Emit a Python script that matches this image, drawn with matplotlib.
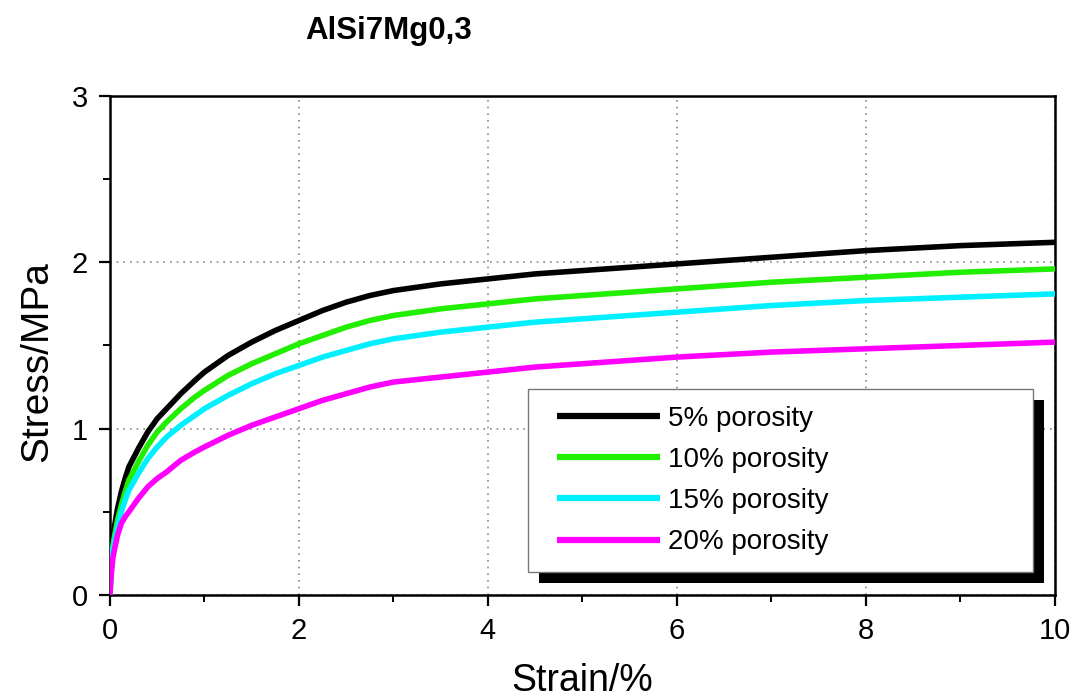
import matplotlib
matplotlib.use("Agg")
import numpy as np
import matplotlib.pyplot as plt
from matplotlib.patches import Rectangle
from matplotlib.ticker import MultipleLocator

plt.rcParams['font.family'] = ['Liberation Sans', 'DejaVu Sans']

# Strain (%) sample points
strain = [0, 0.01, 0.03, 0.05, 0.08, 0.12, 0.16, 0.2, 0.3, 0.4, 0.5, 0.6, 0.75, 0.9, 1.0,
          1.25, 1.5, 1.75, 2.0, 2.25, 2.5, 2.75, 3.0, 3.5, 4, 4.5, 5, 6, 7, 8, 9, 10]

# Stress (MPa) for each porosity level
stress_5 = [0, 0.18, 0.34, 0.42, 0.52, 0.62, 0.70, 0.77, 0.88, 0.98, 1.06, 1.12, 1.21, 1.29, 1.34,
            1.44, 1.52, 1.59, 1.65, 1.71, 1.76, 1.80, 1.83, 1.87, 1.90, 1.93, 1.95, 1.99, 2.03, 2.07, 2.10, 2.12]
stress_10 = [0, 0.15, 0.29, 0.36, 0.45, 0.54, 0.62, 0.69, 0.80, 0.90, 0.98, 1.04, 1.12, 1.19, 1.23,
             1.32, 1.39, 1.45, 1.51, 1.56, 1.61, 1.65, 1.68, 1.72, 1.75, 1.78, 1.80, 1.84, 1.88, 1.91, 1.94, 1.96]
stress_15 = [0, 0.13, 0.27, 0.33, 0.41, 0.50, 0.57, 0.63, 0.73, 0.82, 0.89, 0.95, 1.02, 1.08, 1.12,
             1.20, 1.27, 1.33, 1.38, 1.43, 1.47, 1.51, 1.54, 1.58, 1.61, 1.64, 1.66, 1.70, 1.74, 1.77, 1.79, 1.81]
stress_20 = [0, 0.10, 0.22, 0.28, 0.36, 0.43, 0.47, 0.50, 0.58, 0.65, 0.70, 0.74, 0.81, 0.86, 0.89,
             0.96, 1.02, 1.07, 1.12, 1.17, 1.21, 1.25, 1.28, 1.31, 1.34, 1.37, 1.39, 1.43, 1.46, 1.48, 1.50, 1.52]

labels = ['5% porosity', '10% porosity', '15% porosity', '20% porosity']
colors = ['#000000', '#22ee00', '#00f0ff', '#ff00ff']
series = [stress_5, stress_10, stress_15, stress_20]

fig = plt.figure(figsize=(10.73, 7.0), dpi=100)
ax = fig.add_axes([0.1025, 0.15, 0.8805, 0.713])

for y, c, lab in zip(series, colors, labels):
    ax.plot(strain, y, color=c, lw=4.0, label=lab, solid_joinstyle='round', zorder=3)

ax.set_xlim(0, 10)
ax.set_ylim(0, 3)
ax.xaxis.set_major_locator(MultipleLocator(2))
ax.xaxis.set_minor_locator(MultipleLocator(1))
ax.yaxis.set_major_locator(MultipleLocator(1))
ax.yaxis.set_minor_locator(MultipleLocator(0.5))

for s in ax.spines.values():
    s.set_linewidth(1.8)
    s.set_color('black')

ax.tick_params(axis='both', which='major', direction='out', length=8, width=1.6,
               labelsize=21, pad=8)
ax.tick_params(axis='both', which='minor', direction='out', length=5, width=1.4)

ax.grid(True, which='major', linestyle=(0, (1, 3)), color='#888888', linewidth=1.2)
ax.set_axisbelow(True)

ax.set_xlabel('Strain/%', fontsize=27, labelpad=13)
ax.set_ylabel('Stress/MPa', fontsize=28, labelpad=12)
ax.yaxis.label.set_y(0.467)

fig.text(0.284, 0.955, 'AlSi7Mg0,3', fontsize=22.5, fontweight='bold', ha='left', va='center')

leg = ax.legend(loc='lower left', bbox_to_anchor=(0.442, 0.046, 0.535, 0.371),
                mode='expand', borderaxespad=0, fontsize=20, frameon=True,
                fancybox=False, handlelength=4.17, handletextpad=0.29,
                labelspacing=0.55, borderpad=0.6, framealpha=1.0)
leg.get_frame().set_edgecolor('#777777')
leg.get_frame().set_facecolor('white')
leg.get_frame().set_linewidth(1.0)
leg.set_zorder(6)
# Legend sample lines: thicker, flat ends, indented from the frame edge
indent = 8.9
for h in leg.get_lines():
    h.set_linewidth(4.5)
    h.set_solid_capstyle('butt')
    xd = np.asarray(h.get_xdata(), dtype=float)
    h.set_xdata(np.linspace(xd[0] + indent, xd[-1], len(xd)))

# Solid offset shadow behind the legend box
fig.canvas.draw()
bb = leg.get_window_extent().transformed(fig.transFigure.inverted())
dx, dy = 11 / 1073, 11 / 700
shadow = Rectangle((bb.x0 + dx, bb.y0 - dy), bb.width, bb.height,
                   transform=fig.transFigure, facecolor='black', edgecolor='none',
                   zorder=5.5)
ax.add_artist(shadow)
shadow.set_clip_on(False)

fig.savefig('out.png', dpi=100)
